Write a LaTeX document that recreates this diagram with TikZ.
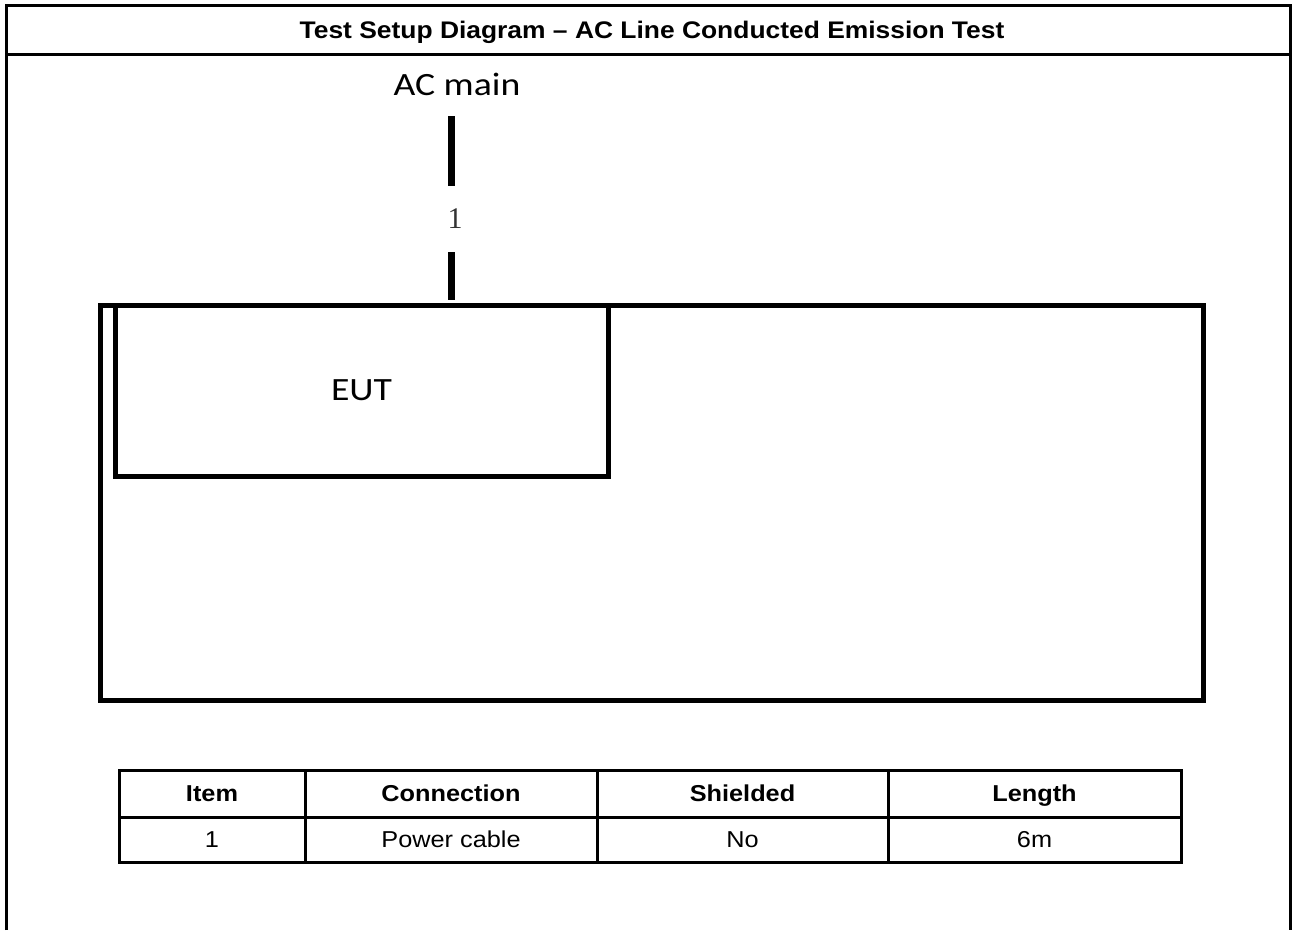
\documentclass[tikz,border=0pt]{standalone}
\usepackage{fontspec}
\setmainfont{Liberation Sans}[FakeStretch=1.1]
\newfontfamily\calfont{Carlito}[FakeStretch=1.16]
\newfontfamily\serffont{Liberation Serif}
\usetikzlibrary{positioning,calc}
\definecolor{ink}{RGB}{0,0,0}
\tikzset{
  frame/.style={draw=ink,line width=3pt},
  bench/.style={draw=ink,line width=5pt,inner sep=0pt,minimum width=1103pt,minimum height=395pt},
  unit/.style={draw=ink,line width=5pt,inner sep=0pt,minimum width=493pt,minimum height=171pt,
    font=\calfont\fontsize{32.5}{36}\selectfont},
  cable/.style={draw=ink,line width=7pt},
  tag/.style={font=\calfont\fontsize{32.5}{36}\selectfont,inner sep=0pt},
  cell/.style={draw=ink,line width=3pt,inner sep=0pt,minimum width=#1,minimum height=47pt,
    text height=16.5pt,text depth=0pt,font=\fontsize{23}{26}\selectfont},
  head/.style={cell=#1,font=\fontsize{23}{26}\selectfont\bfseries},
}
\begin{document}
\begin{tikzpicture}[x=1pt,y=-1pt]
  \useasboundingbox (0,0) rectangle (1292,930);
  % page frame
  \draw[frame] (6.5,930) -- (6.5,5.5) -- (1290.5,5.5) -- (1290.5,930);
  \draw[frame] (6.5,54) -- (1290.5,54);
  \node[font=\fontsize{24}{28}\selectfont\bfseries,text height=17.2pt,text depth=0pt] (title) at (652,30) {Test Setup Diagram -- AC Line Conducted Emission Test};
  % setup
  \node[bench] (table) at (651.5,502.5) {};
  \node[unit] (eut) at (361.5,390.5) {EUT};
  \node[tag] (ac) at (457,84) {AC main};
  \coordinate (cabletop) at (451,116);
  \node[inner sep=0pt,minimum height=66pt,font=\serffont\fontsize{30}{34}\selectfont,text=ink!80] (c1) at (455,219) {1};
  \draw[cable] (cabletop) -- (cabletop |- c1.north);
  \draw[cable,shorten >=3pt] (cabletop |- c1.south) -- (cabletop |- table.north);
  % cable list
  \node[head=186pt] (h1) at (212,793.5) {Item};
  \node[head=292pt] (h2) at (451,793.5) {Connection};
  \node[head=291pt] (h3) at (742.5,793.5) {Shielded};
  \node[head=293pt] (h4) at (1034.5,793.5) {Length};
  \node[cell=186pt,minimum height=45pt] (r1) at (212,839.5) {1};
  \node[cell=292pt,minimum height=45pt] (r2) at (451,839.5) {Power cable};
  \node[cell=291pt,minimum height=45pt] (r3) at (742.5,839.5) {No};
  \node[cell=293pt,minimum height=45pt] (r4) at (1034.5,839.5) {6m};
\end{tikzpicture}
\end{document}
